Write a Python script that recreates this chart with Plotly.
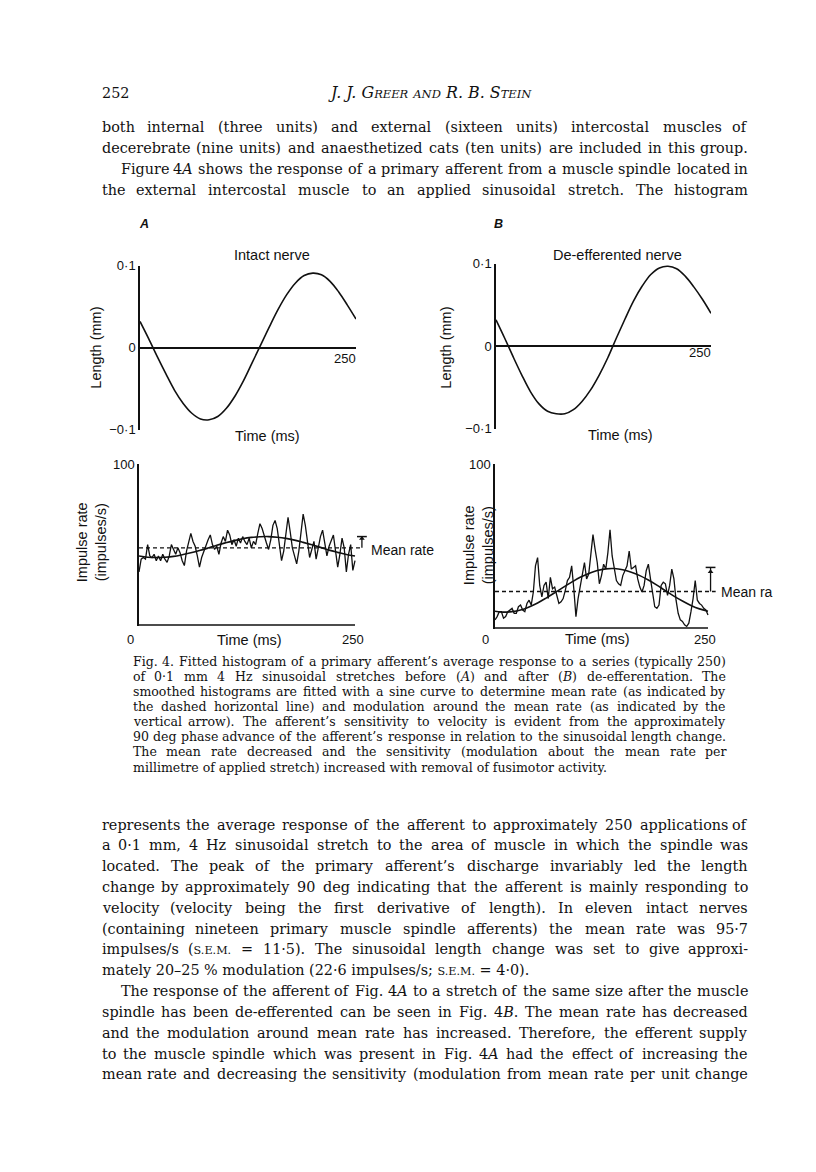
import re
import plotly.graph_objects as go

W, H = 816, 1172
INK = "#111111"
SANS = "Liberation Sans"
SERIF = "DejaVu Serif"

# ------------------------------------------------------------------ data
curve_time_ms = list(range(0, 251, 10))
length_intact_mm = [0.032, 0.011, -0.011, -0.032, -0.052, -0.068, -0.080, -0.087, -0.088,
                    -0.084, -0.074, -0.059, -0.040, -0.018, 0.004, 0.026, 0.047, 0.065,
                    0.079, 0.088, 0.091, 0.089, 0.081, 0.068, 0.052, 0.035]
length_deeff_mm = [0.032, 0.010, -0.013, -0.035, -0.055, -0.070, -0.079, -0.082, -0.082,
                   -0.077, -0.067, -0.053, -0.035, -0.014, 0.010, 0.033, 0.055, 0.073,
                   0.087, 0.095, 0.097, 0.094, 0.085, 0.072, 0.057, 0.040]

fit_intact = [42.9, 42.2, 42.0, 42.2, 42.7, 43.7, 44.9, 46.3, 47.9, 49.6, 51.1, 52.5, 53.7,
              54.5, 54.9, 55.0, 54.6, 53.9, 52.8, 51.4, 49.9, 48.3, 46.6, 45.2, 43.9, 42.9]
fit_deeff = [10.3, 9.7, 10.0, 11.0, 12.9, 15.3, 18.3, 21.5, 24.8, 28.0, 31.0, 33.3, 35.1,
             36.1, 36.3, 35.6, 34.1, 32.0, 29.3, 26.2, 22.8, 19.5, 16.5, 13.8, 11.7, 10.3]

BIN_MS = 2.5
rate_intact = [33, 41, 42, 41, 50, 43, 42, 44, 40,
               43, 40, 44, 41, 39, 43, 50, 47, 44, 48,
               45, 40, 37, 46, 52, 57, 52, 49, 43, 36, 42,
               46, 50, 53, 56, 50, 47, 49, 44, 51, 55, 52, 59, 56,
               50, 53, 49, 54, 51, 55, 52, 50, 54, 48, 52, 50,
               57, 63, 60, 55, 51, 47, 53, 62, 65, 60,
               49, 40, 46, 57, 67, 58, 48, 43, 38, 46, 58, 69,
               62, 50, 42, 47, 52, 41, 48, 55, 59, 50, 43, 49,
               53, 56, 46, 36, 44, 54, 48, 33, 44, 50, 34, 40]
rate_deeff = [5, 7, 10, 10, 6, 7, 10, 11, 12,
              9, 9, 13, 14, 11, 10, 15, 17, 14, 22,
              38, 43, 26, 19, 26, 28, 18, 31, 24, 25, 20,
              15, 16, 18, 23, 29, 31, 38, 24, 7, 18, 26, 33, 40,
              30, 33, 45, 57, 48, 40, 27, 32, 39, 36, 46, 60,
              44, 35, 29, 27, 26, 32, 35, 38, 47, 36,
              37, 38, 30, 25, 22, 26, 35, 39, 30, 20, 13, 12,
              14, 26, 28, 27, 20, 26, 36, 30, 17, 9, 5, 4,
              2, 1, 3, 10, 18, 29, 17, 15, 14, 12, 11, 8]
rate_time_ms = [i * BIN_MS for i in range(len(rate_intact))]

mean_rate_intact, modulation_intact = 48.0, 7.0
mean_rate_deeff, modulation_deeff = 22.3, 14.7

T_END = 250
length_ticks = [-0.1, 0, 0.1]
length_ticktext = ["\u22120\u00b71", "0", "0\u00b71"]

# ------------------------------------------------------------------ helpers
def dom_x(px0, px1, v0, v1, r0, r1):
    s = (px1 - px0) / (v1 - v0)
    return [(px0 + (r0 - v0) * s) / W, (px0 + (r1 - v0) * s) / W]


def dom_y(py0, py1, v0, v1, r0, r1):
    s = (py1 - py0) / (v1 - v0)
    return [1 - (py0 + (r0 - v0) * s) / H, 1 - (py0 + (r1 - v0) * s) / H]


def yaxis_cfg(dom, rng, anchor, tickvals, ticktext, zeroline):
    return dict(domain=dom, range=rng, anchor=anchor, showline=True, linecolor=INK,
                linewidth=1.5, ticks="inside", ticklen=5, tickwidth=1.5, tickcolor=INK,
                tickvals=tickvals, ticktext=ticktext, showgrid=False,
                tickfont=dict(family=SANS, size=13, color=INK),
                zeroline=zeroline, zerolinecolor=INK, zerolinewidth=1.5, fixedrange=True)


def xaxis_cfg(dom, rng, anchor):
    return dict(domain=dom, range=rng, anchor=anchor, showline=False, showticklabels=False,
                ticks="", showgrid=False, zeroline=False, fixedrange=True)


fig = go.Figure()

line_style = dict(color=INK, width=1.6)
noise_style = dict(color=INK, width=1.3)
dash_style = dict(color=INK, width=1.3, dash="4px,3px")

# top panels: length
fig.add_trace(go.Scatter(x=curve_time_ms, y=length_intact_mm, mode="lines",
                         line=dict(**line_style, shape="spline"), xaxis="x", yaxis="y"))
fig.add_trace(go.Scatter(x=curve_time_ms, y=length_deeff_mm, mode="lines",
                         line=dict(**line_style, shape="spline"), xaxis="x2", yaxis="y2"))

# bottom panels: histograms, fits, mean rate, modulation arrow
ARROW_A, DASH_END_A = 258, 258
ARROW_B, DASH_END_B = 253, 259
for xa, ya, rate, fit, mean, mod, arrow_x, dash_end in [
        ("x3", "y3", rate_intact, fit_intact, mean_rate_intact, modulation_intact, ARROW_A, DASH_END_A),
        ("x4", "y4", rate_deeff, fit_deeff, mean_rate_deeff, modulation_deeff, ARROW_B, DASH_END_B)]:
    fig.add_trace(go.Scatter(x=rate_time_ms, y=rate, mode="lines", line=noise_style,
                             xaxis=xa, yaxis=ya))
    fig.add_trace(go.Scatter(x=curve_time_ms, y=fit, mode="lines",
                             line=dict(**line_style, shape="spline"), xaxis=xa, yaxis=ya))
    fig.add_trace(go.Scatter(x=[0, dash_end], y=[mean, mean], mode="lines", line=dash_style,
                             xaxis=xa, yaxis=ya))
    fig.add_trace(go.Scatter(x=[arrow_x, arrow_x], y=[mean, mean + mod], mode="lines",
                             line=dict(color=INK, width=1.3), xaxis=xa, yaxis=ya))
    fig.add_trace(go.Scatter(x=[arrow_x], y=[mean + mod], mode="markers", cliponaxis=False,
                             marker=dict(symbol="line-ew", size=7, line=dict(color=INK, width=1.5)),
                             xaxis=xa, yaxis=ya))
    fig.add_trace(go.Scatter(x=[arrow_x], y=[mean + mod * 0.82], mode="markers", cliponaxis=False,
                             marker=dict(symbol="triangle-up", size=5, color=INK),
                             xaxis=xa, yaxis=ya))

R_BOT = [0, 262]
fig.update_layout(
    xaxis=xaxis_cfg(dom_x(132, 348, 0, 250, 0, 250), [0, 250], "y"),
    yaxis=yaxis_cfg(dom_y(420, 254, -0.1, 0.1, -0.1, 0.1), [-0.1, 0.1], "x",
                    length_ticks, length_ticktext, True),
    xaxis2=xaxis_cfg(dom_x(488, 703, 0, 250, 0, 250), [0, 250], "y2"),
    yaxis2=yaxis_cfg(dom_y(419, 252, -0.1, 0.1, -0.1, 0.1), [-0.1, 0.1], "x2",
                     length_ticks, length_ticktext, True),
    xaxis3=xaxis_cfg(dom_x(131, 347, 0, 250, *R_BOT), R_BOT, "y3"),
    yaxis3=yaxis_cfg(dom_y(618, 455, 0, 100, -0.8, 100), [-0.8, 100], "x3",
                     [100], ["100"], False),
    xaxis4=xaxis_cfg(dom_x(487, 700, 0, 250, *R_BOT), R_BOT, "y4"),
    yaxis4=yaxis_cfg(dom_y(621, 455, 0, 100, -0.8, 100), [-0.8, 100], "x4",
                     [100], ["100"], False),
)

shapes = []
for xa, ya in [("x3", "y3"), ("x4", "y4")]:
    shapes.append(dict(type="line", xref=xa, yref=ya, x0=0, x1=T_END, y0=0, y1=0,
                       line=dict(color=INK, width=1.5)))

annotations = []


def label(text, x, y, size=14, xanchor="center", angle=0, italic=False, family=SANS,
          weight="normal"):
    if italic:
        text = "<i>" + text + "</i>"
    annotations.append(dict(text=text, x=x / W, y=1 - y / H, xref="paper", yref="paper",
                            xanchor=xanchor, yanchor="middle", showarrow=False, textangle=angle,
                            borderpad=0,
                            font=dict(family=family, size=size, color=INK, weight=weight)))


# chart labels
label("A", 136, 212, 12.5, italic=True, weight="bold")
label("B", 490, 212, 12.5, italic=True, weight="bold")
label("Intact nerve", 264, 243, 14.5)
label("De-efferented nerve", 609, 243, 14.5)
label("Length (mm)", 88, 337, 14.5, angle=-90)
label("Length (mm)", 438, 337, 14.5, angle=-90)
label("Time (ms)", 259, 426, 14.5)
label("Time (ms)", 612, 425, 14.5)
label("250", 337, 348, 13)
label("250", 692, 342, 13)
label("0", 122, 633, 13)
label("Time (ms)", 241, 633, 14.5)
label("250", 345, 633, 13)
label("0", 477, 633, 13)
label("Time (ms)", 589, 632, 14.5)
label("250", 697, 633, 13)
label("Impulse rate<br>(impulses/s)", 83, 534, 14.5, angle=-90)
label("Impulse rate<br>(impulses/s)", 470, 537, 14.5, angle=-90)
label("Mean rate", 362, 542, 14, xanchor="left")
label("Mean ra", 712, 584, 14, xanchor="left")

# ------------------------------------------------------------------ page text
ADV = {' ': .318, '(': .390, ')': .390, ',': .318, '-': .338, '.': .318, '/': .337,
       ':': .337, ';': .337, '=': .838, '%': .950, '\u2019': .318, '\u00b7': .318,
       '\u2013': .500, '\u2212': .838,
       'A': .722, 'B': .735, 'C': .765, 'D': .802, 'E': .730, 'F': .695, 'G': .799,
       'H': .872, 'I': .395, 'J': .401, 'K': .747, 'L': .664, 'M': 1.024, 'N': .875,
       'O': .820, 'P': .673, 'Q': .820, 'R': .753, 'S': .685, 'T': .667, 'U': .846,
       'V': .722, 'W': 1.028, 'X': .712, 'Y': .660, 'Z': .695,
       'a': .595, 'b': .639, 'c': .560, 'd': .639, 'e': .592, 'f': .370, 'g': .639,
       'h': .644, 'i': .320, 'j': .310, 'k': .606, 'l': .320, 'm': .948, 'n': .644,
       'o': .602, 'p': .639, 'q': .639, 'r': .478, 's': .513, 't': .402, 'u': .644,
       'v': .565, 'w': .856, 'x': .564, 'y': .565, 'z': .530}
for d in "0123456789":
    ADV[d] = .636
SC = 0.78


def segs(word):
    out, pos = [], 0
    for m in re.finditer(r"<(i|sc)>(.*?)</\1>", word):
        if m.start() > pos:
            out.append((word[pos:m.start()], "r"))
        out.append((m.group(2), m.group(1)))
        pos = m.end()
    if pos < len(word):
        out.append((word[pos:], "r"))
    return out


def em_width(word):
    w = 0.0
    for t, st in segs(word):
        for ch in t:
            w += ADV.get(ch.upper(), .6) * SC if st == "sc" else ADV.get(ch, .6)
    return w


def to_html(text, size):
    return re.sub(r"<sc>(.*?)</sc>",
                  lambda m: '<span style="font-size:%.1fpx">%s</span>' % (size * SC, m.group(1).upper()),
                  text)


def fit_size(lines, x0, x1):
    s = 99.0
    for text, just, indent in lines:
        if just:
            words = text.split(" ")
            nat = sum(em_width(w) for w in words) + ADV[" "] * (len(words) - 1)
            s = min(s, (x1 - x0 - indent) / nat)
    return s * 0.985


def place_block(lines, x0, x1, y0, dy, size):
    for k, (text, just, indent) in enumerate(lines):
        y = 1 - (y0 + k * dy) / H
        start = x0 + indent
        common = dict(yref="paper", xref="paper", y=y, yanchor="middle", showarrow=False,
                      borderpad=0, font=dict(family=SERIF, size=size, color=INK))
        if not just:
            annotations.append(dict(text=to_html(text, size), x=start / W, xanchor="left", **common))
            continue
        words = text.split(" ")
        widths = [em_width(w) * size for w in words]
        gap = (x1 - start - sum(widths)) / (len(words) - 1)
        x = start
        for i, (w, wd) in enumerate(zip(words, widths)):
            if i == 0:
                ax, anc = x, "left"
            elif i == len(words) - 1:
                ax, anc = x1, "right"
            else:
                ax, anc = x + wd / 2, "center"
            annotations.append(dict(text=to_html(w, size), x=ax / W, xanchor=anc, **common))
            x += wd + gap


body_top = [
    ("both internal (three units) and external (sixteen units) intercostal muscles of", True, 0),
    ("decerebrate (nine units) and anaesthetized cats (ten units) are included in this group.", True, 0),
    ("Figure 4<i>A</i> shows the response of a primary afferent from a muscle spindle located in", True, 19),
    ("the external intercostal muscle to an applied sinusoidal stretch. The histogram", True, 0),
]
caption = [
    ("Fig. 4. Fitted histogram of a primary afferent\u2019s average response to a series (typically 250)", True, 0),
    ("of 0\u00b71 mm 4 Hz sinusoidal stretches before (<i>A</i>) and after (<i>B</i>) de-efferentation. The", True, 0),
    ("smoothed histograms are fitted with a sine curve to determine mean rate (as indicated by", True, 0),
    ("the dashed horizontal line) and modulation around the mean rate (as indicated by the", True, 0),
    ("vertical arrow). The afferent\u2019s sensitivity to velocity is evident from the approximately", True, 0),
    ("90 deg phase advance of the afferent\u2019s response in relation to the sinusoidal length change.", True, 0),
    ("The mean rate decreased and the sensitivity (modulation about the mean rate per", True, 0),
    ("millimetre of applied stretch) increased with removal of fusimotor activity.", False, 0),
]
body_bottom = [
    ("represents the average response of the afferent to approximately 250 applications of", True, 0),
    ("a 0\u00b71 mm, 4 Hz sinusoidal stretch to the area of muscle in which the spindle was", True, 0),
    ("located. The peak of the primary afferent\u2019s discharge invariably led the length", True, 0),
    ("change by approximately 90 deg indicating that the afferent is mainly responding to", True, 0),
    ("velocity (velocity being the first derivative of length). In eleven intact nerves", True, 0),
    ("(containing nineteen primary muscle spindle afferents) the mean rate was 95\u00b77", True, 0),
    ("impulses/s (<sc>s.e.m.</sc> = 11\u00b75). The sinusoidal length change was set to give approxi-", True, 0),
    ("mately 20\u201325 % modulation (22\u00b76 impulses/s; <sc>s.e.m.</sc> = 4\u00b70).", False, 0),
    ("The response of the afferent of Fig. 4<i>A</i> to a stretch of the same size after the muscle", True, 19),
    ("spindle has been de-efferented can be seen in Fig. 4<i>B</i>. The mean rate has decreased", True, 0),
    ("and the modulation around mean rate has increased. Therefore, the efferent supply", True, 0),
    ("to the muscle spindle which was present in Fig. 4<i>A</i> had the effect of increasing the", True, 0),
    ("mean rate and decreasing the sensitivity (modulation from mean rate per unit change", True, 0),
]

BODY_X0, BODY_X1 = 93, 741
CAP_X0, CAP_X1 = 124, 719
body_size = fit_size(body_top + body_bottom, BODY_X0, BODY_X1)
cap_size = fit_size(caption, CAP_X0, CAP_X1)

place_block(body_top, BODY_X0, BODY_X1, 113.5, 21.4, body_size)
place_block(caption, CAP_X0, CAP_X1, 655, 15.25, cap_size)
place_block(body_bottom, BODY_X0, BODY_X1, 820, 21.1, body_size)

# running head
annotations.append(dict(text="252", x=BODY_X0 / W, y=1 - 79 / H, xref="paper", yref="paper",
                        xanchor="left", yanchor="middle", showarrow=False, borderpad=0,
                        font=dict(family=SERIF, size=body_size, color=INK)))
sc = body_size * 0.8
head = ('<i>J. J. G<span style="font-size:%.1fpx">REER</span> '
        '<span style="font-size:%.1fpx">AND</span> R. B. S'
        '<span style="font-size:%.1fpx">TEIN</span></i>') % (sc, sc, sc)
annotations.append(dict(text=head, x=422 / W, y=1 - 79 / H, xref="paper", yref="paper",
                        xanchor="center", yanchor="middle", showarrow=False, borderpad=0,
                        font=dict(family=SERIF, size=body_size + 1.5, color=INK)))

fig.update_layout(width=W, height=H, margin=dict(l=0, r=0, t=0, b=0),
                  paper_bgcolor="white", plot_bgcolor="rgba(0,0,0,0)", showlegend=False,
                  shapes=shapes, annotations=annotations)

fig.write_html("out.html")
